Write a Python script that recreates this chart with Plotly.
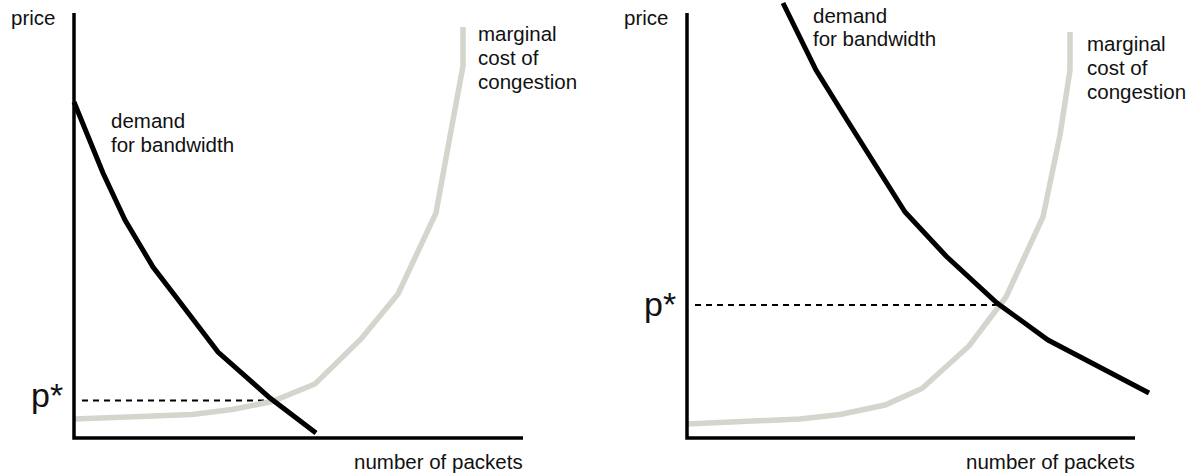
import plotly.graph_objects as go

W, H = 1193, 473
FONT = "Liberation Sans, Arial, Helvetica, sans-serif"
TEXT_COLOR = "#111111"
MC_COLOR = "#d5d5cd"

# Axis lengths (quantity, price) in arbitrary units
left_q_max, left_p_max = 449, 425
right_q_max, right_p_max = 448, 425

# Left panel: demand for bandwidth is low, equilibrium price is low
left_demand_q = [0, 29, 51, 79, 102, 144, 196, 242]
left_demand_p = [336, 265, 218, 171, 141, 86, 40, 5]
left_mc_q = [1, 118, 158, 198, 241, 287, 324, 362, 374, 389, 389]
left_mc_p = [19, 23.5, 28.5, 36.5, 54, 99, 144, 225, 291, 372, 411]
left_q_star, left_p_star = 197, 37.5

# Right panel: demand shifted out, equilibrium price is higher
right_demand_q = [96, 129, 160, 218, 259, 310, 361, 462]
right_demand_p = [435, 368, 318, 226, 182, 135, 98, 45]
right_mc_q = [0, 113, 153, 198, 235, 282, 319, 356, 373, 383, 383]
right_mc_p = [14, 19, 23.5, 33, 49.5, 92, 141, 221, 303, 368, 406]
right_q_star, right_p_star = 313, 133

# Label text
price_label = "price"
quantity_label = "number of packets"
pstar_label = "p*"
demand_lines = ["demand", "for bandwidth"]
mc_lines = ["marginal", "cost of", "congestion"]

fig = go.Figure()

panels = [
    dict(xa="x", ya="y", dq=left_demand_q, dp=left_demand_p, mq=left_mc_q, mp=left_mc_p,
         qs=left_q_star, ps=left_p_star, qmax=left_q_max, pmax=left_p_max,
         demand_pos=(37, [318, 294]), mc_pos=(404, [405, 380.5, 356.5]), pstar_dy=5.5),
    dict(xa="x2", ya="y2", dq=right_demand_q, dp=right_demand_p, mq=right_mc_q, mp=right_mc_p,
         qs=right_q_star, ps=right_p_star, qmax=right_q_max, pmax=right_p_max,
         demand_pos=(126, [423, 400]), mc_pos=(400, [395, 371, 346.5]), pstar_dy=1),
]

annotations = []
shapes = []
for p in panels:
    # dashed guide at the equilibrium price
    fig.add_trace(go.Scatter(x=[8, p["qs"]], y=[p["ps"], p["ps"]], mode="lines",
                             line=dict(color="black", width=2, dash="6px,5px"),
                             xaxis=p["xa"], yaxis=p["ya"], hoverinfo="skip"))
    # marginal cost of congestion
    fig.add_trace(go.Scatter(x=p["mq"], y=p["mp"], mode="lines",
                             line=dict(color=MC_COLOR, width=5.5),
                             xaxis=p["xa"], yaxis=p["ya"], hoverinfo="skip"))
    # demand for bandwidth
    fig.add_trace(go.Scatter(x=p["dq"], y=p["dp"], mode="lines",
                             line=dict(color="black", width=5),
                             xaxis=p["xa"], yaxis=p["ya"], hoverinfo="skip"))

    # price / quantity axes
    shapes.append(dict(type="path", xref=p["xa"], yref=p["ya"],
                       path=f"M0,{p['pmax']} L0,0 L{p['qmax']},0",
                       line=dict(color="black", width=3.5)))

    common = dict(xref=p["xa"], yref=p["ya"], showarrow=False, borderpad=0, borderwidth=0)
    annotations.append(dict(common, x=0, y=p["pmax"], text=price_label, xanchor="right",
                            yanchor="middle", xshift=-19, yshift=-4.5,
                            font=dict(family=FONT, size=20.5, color=TEXT_COLOR)))
    annotations.append(dict(common, x=p["qmax"], y=0, text=quantity_label, xanchor="right",
                            yanchor="middle", yshift=-23,
                            font=dict(family=FONT, size=20.5, color=TEXT_COLOR)))
    annotations.append(dict(common, x=0, y=p["ps"], text=pstar_label, xanchor="right",
                            yanchor="middle", xshift=-11, yshift=p["pstar_dy"],
                            font=dict(family=FONT, size=34, color=TEXT_COLOR)))
    dx, dys = p["demand_pos"]
    for line, yy in zip(demand_lines, dys):
        annotations.append(dict(common, x=dx, y=yy, text=line, xanchor="left", yanchor="middle",
                                font=dict(family=FONT, size=20.5, color=TEXT_COLOR)))
    mx, mys = p["mc_pos"]
    for line, yy in zip(mc_lines, mys):
        annotations.append(dict(common, x=mx, y=yy, text=line, xanchor="left", yanchor="middle",
                                font=dict(family=FONT, size=20.5, color=TEXT_COLOR)))

hidden = dict(showgrid=False, zeroline=False, showticklabels=False, showline=False,
              ticks="", fixedrange=True)

fig.update_layout(
    width=W, height=H, autosize=False,
    margin=dict(l=0, r=0, t=0, b=0),
    paper_bgcolor="white", plot_bgcolor="white",
    showlegend=False,
    xaxis=dict(hidden, domain=[0, 0.5], range=[-74, 522.5]),
    yaxis=dict(hidden, domain=[0, 1], range=[-35, 438]),
    xaxis2=dict(hidden, domain=[0.5, 1], range=[-90.5, 506]),
    yaxis2=dict(hidden, domain=[0, 1], range=[-35, 438], anchor="x2"),
    shapes=shapes,
    annotations=annotations,
)

fig.write_html("out.html")
